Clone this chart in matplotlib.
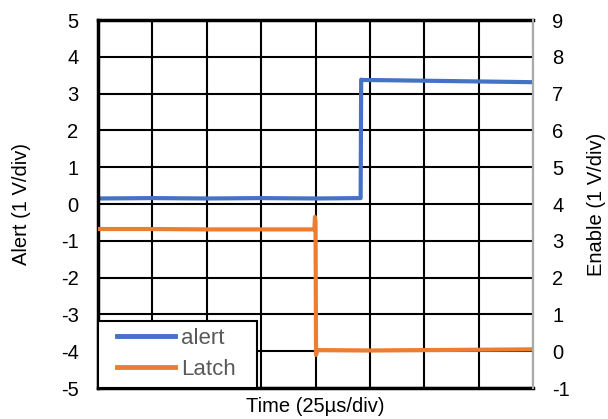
import matplotlib
matplotlib.use("Agg")
import matplotlib.pyplot as plt
from matplotlib.patches import Rectangle

# Time in divisions (25 µs/div)
alert_t = [0.0, 1.0, 2.0, 3.0, 4.0, 4.83, 4.84, 4.86, 5.5, 6.5, 7.5, 8.0]
alert_v = [0.15, 0.16, 0.15, 0.16, 0.15, 0.16, 3.38, 3.37, 3.36, 3.34, 3.32, 3.31]

latch_t = [0.0, 1.0, 2.0, 3.0, 3.98, 3.99, 4.0, 4.01, 4.03, 5.0, 6.0, 7.0, 8.0]
latch_v = [3.32, 3.32, 3.31, 3.31, 3.31, 3.65, 3.5, -0.1, 0.03, 0.02, 0.03, 0.04, 0.05]

left_ticks = [5, 4, 3, 2, 1, 0, -1, -2, -3, -4, -5]
right_ticks = [9, 8, 7, 6, 5, 4, 3, 2, 1, 0, -1]

plt.rcParams['font.family'] = ['Liberation Sans', 'DejaVu Sans']
FS = 14.5

W, H = 608, 419
fig = plt.figure(figsize=(W/100, H/100), dpi=100)
x0, x1, y0, y1 = 98, 533, 20, 388
ax = fig.add_axes([x0/W, 1-y1/H, (x1-x0)/W, (y1-y0)/H])
ax2 = ax.twinx()

ax.set_xlim(0, 8)
ax.set_ylim(-5, 5)
ax2.set_ylim(-1, 9)
ax.set_xticks(range(0, 9))
ax.set_xticklabels([])
ax.set_yticks(left_ticks)
ax.set_yticklabels([str(v) for v in left_ticks])
ax2.set_yticks(right_ticks)
ax2.set_yticklabels([str(v) for v in right_ticks])
ax.tick_params(axis='x', length=0, pad=0)
ax.tick_params(axis='y', length=0, labelsize=FS, pad=14)
ax2.tick_params(axis='y', length=0, labelsize=FS, pad=14)

ax.grid(True, color='black', linewidth=1.5)
ax.set_axisbelow(True)

l1, = ax.plot(alert_t, alert_v, color='#4472C4', linewidth=3.0, label='alert')
l2, = ax2.plot(latch_t, latch_v, color='#ED7D31', linewidth=3.0, label='Latch')

for s in ['left', 'top', 'bottom']:
    ax.spines[s].set_linewidth(2.5)
    ax.spines[s].set_color('black')
ax.spines['right'].set_color('#999999')
ax2.spines['right'].set_color('#aaaaaa')
ax2.spines['right'].set_linewidth(1.5)
for s in ['left', 'top', 'bottom']:
    ax2.spines[s].set_visible(False)

ax.set_ylabel('Alert (1 V/div)', fontsize=FS)
ax.yaxis.set_label_coords((22 - x0) / (x1 - x0), 0.5)
ax2.set_ylabel('Enable (1 V/div)', fontsize=FS, rotation=90)
ax2.yaxis.set_label_coords((596 - x0) / (x1 - x0), 0.5)
ax.set_xlabel('Time (25µs/div)', fontsize=FS)
ax.xaxis.set_label_coords(0.5, -(406 - y1) / (y1 - y0))
ax.xaxis.label.set_verticalalignment('center')
ax.yaxis.label.set_verticalalignment('center')
ax2.yaxis.label.set_verticalalignment('center')

# legend frame drawn manually
aw, ah = x1 - x0, y1 - y0
frame = Rectangle((0, 0), (257 - x0) / aw, (y1 - 321) / ah, transform=ax2.transAxes,
                  facecolor='white', edgecolor='black', linewidth=1.5, zorder=4.5,
                  clip_on=False)
ax2.add_patch(frame)
leg = ax2.legend([l1, l2], ['alert', 'Latch'], loc='center left',
                 bbox_to_anchor=((117 - x0) / aw, (y1 - 354) / ah),
                 fontsize=16, frameon=False, handlelength=2.6, handletextpad=0.3,
                 borderaxespad=0, borderpad=0, labelspacing=0.45, labelcolor='#595959')
for h in leg.legend_handles:
    h.set_linewidth(3.5)

fig.savefig('out.png', dpi=100)
